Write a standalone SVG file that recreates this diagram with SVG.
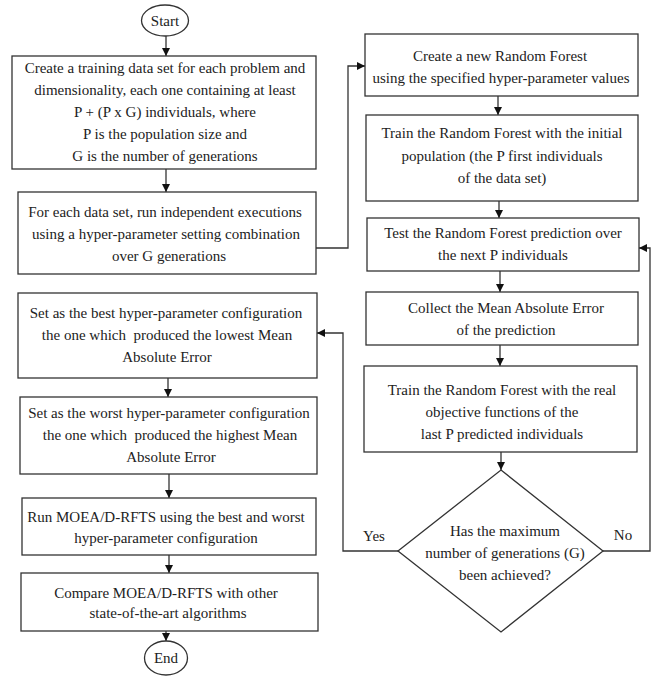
<svg xmlns="http://www.w3.org/2000/svg" width="652" height="677" viewBox="0 0 652 677">
<style>
.n{fill:#fff;stroke:#333;stroke-width:1.3}
.t{font-family:"Liberation Serif","Times New Roman",serif;font-size:15px;fill:#222;text-anchor:middle;white-space:pre}
.c{fill:none;stroke:#333;stroke-width:1.3}
</style>
<defs>
<marker id="ah" viewBox="0 0 10 10" refX="10" refY="5" markerWidth="8" markerHeight="8" markerUnits="userSpaceOnUse" orient="auto">
<path d="M0,0 L10,5 L0,10 z" fill="#111"/>
</marker>
</defs>
<rect width="652" height="677" fill="#fff"/>
<g id="connectors">
<path class="c" d="M166,36 V56" marker-end="url(#ah)"/>
<path class="c" d="M166,169 V192" marker-end="url(#ah)"/>
<path class="c" d="M316,248 H348 V66 H365" marker-end="url(#ah)"/>
<path class="c" d="M498,96 V115" marker-end="url(#ah)"/>
<path class="c" d="M499,201 V218" marker-end="url(#ah)"/>
<path class="c" d="M500,271 V292" marker-end="url(#ah)"/>
<path class="c" d="M500,345 V366" marker-end="url(#ah)"/>
<path class="c" d="M501,452 V470" marker-end="url(#ah)"/>
<path class="c" d="M603,551 H650 V248 H639" marker-end="url(#ah)"/>
<path class="c" d="M398,551 H343 V333 H317" marker-end="url(#ah)"/>
<path class="c" d="M168,378 V397" marker-end="url(#ah)"/>
<path class="c" d="M169,474 V498" marker-end="url(#ah)"/>
<path class="c" d="M169,555 V573" marker-end="url(#ah)"/>
<path class="c" d="M166,631 V641" marker-end="url(#ah)"/>
<text class="t" x="374" y="541">Yes</text>
<text class="t" x="623" y="540">No</text>
</g>
<g id="start">
<ellipse class="n" cx="165" cy="20.5" rx="23.5" ry="15.5"/>
<text class="t" x="165" y="26">Start</text>
</g>
<g id="create-dataset">
<rect class="n" x="12" y="56" width="304" height="113"/>
<text class="t" x="165" y="73">Create a training data set for each problem and</text>
<text class="t" x="165" y="95">dimensionality, each one containing at least</text>
<text class="t" x="165" y="117">P + (P x G) individuals, where</text>
<text class="t" x="165" y="139">P is the population size and</text>
<text class="t" x="165" y="161">G is the number of generations</text>
</g>
<g id="run-executions">
<rect class="n" x="18" y="192" width="298" height="82"/>
<text class="t" x="165" y="217">For each data set, run independent executions</text>
<text class="t" x="166" y="239">using a hyper-parameter setting combination</text>
<text class="t" x="169" y="261">over G generations</text>
</g>
<g id="create-rf">
<rect class="n" x="365" y="34" width="273" height="62"/>
<text class="t" x="500" y="61">Create a new Random Forest</text>
<text class="t" x="501" y="83">using the specified hyper-parameter values</text>
</g>
<g id="train-initial">
<rect class="n" x="366" y="115" width="272" height="86"/>
<text class="t" x="502" y="138">Train the Random Forest with the initial</text>
<text class="t" x="502" y="161">population (the P first individuals</text>
<text class="t" x="502" y="183">of the data set)</text>
</g>
<g id="test-rf">
<rect class="n" x="367" y="218" width="272" height="53"/>
<text class="t" x="503" y="238">Test the Random Forest prediction over</text>
<text class="t" x="503" y="260">the next P individuals</text>
</g>
<g id="collect-mae">
<rect class="n" x="366" y="292" width="272" height="53"/>
<text class="t" x="506" y="313">Collect the Mean Absolute Error</text>
<text class="t" x="506" y="335">of the prediction</text>
</g>
<g id="train-real">
<rect class="n" x="364" y="366" width="273" height="86"/>
<text class="t" x="502" y="395">Train the Random Forest with the real</text>
<text class="t" x="502" y="417">objective functions of the</text>
<text class="t" x="502" y="439">last P predicted individuals</text>
</g>
<g id="decision">
<polygon class="n" points="501,470 603,551 501,632 398,551"/>
<text class="t" x="505" y="536">Has the maximum</text>
<text class="t" x="505" y="558">number of generations (G)</text>
<text class="t" x="505" y="580">been achieved?</text>
</g>
<g id="best-config">
<rect class="n" x="18" y="293" width="299" height="85"/>
<text class="t" x="166" y="318">Set as the best hyper-parameter configuration</text>
<text class="t" x="167" y="340">the one which  produced the lowest Mean</text>
<text class="t" x="167" y="362">Absolute Error</text>
</g>
<g id="worst-config">
<rect class="n" x="20" y="397" width="297" height="77"/>
<text class="t" x="169" y="418">Set as the worst hyper-parameter configuration</text>
<text class="t" x="170" y="440">the one which  produced the highest Mean</text>
<text class="t" x="171" y="462">Absolute Error</text>
</g>
<g id="run-moead">
<rect class="n" x="22" y="498" width="294" height="57"/>
<text class="t" x="166" y="522">Run MOEA/D-RFTS using the best and worst</text>
<text class="t" x="166" y="543">hyper-parameter configuration</text>
</g>
<g id="compare">
<rect class="n" x="21" y="573" width="297" height="58"/>
<text class="t" x="166" y="598">Compare MOEA/D-RFTS with other</text>
<text class="t" x="168" y="618">state-of-the-art algorithms</text>
</g>
<g id="end">
<ellipse class="n" cx="166" cy="658" rx="21.5" ry="17"/>
<text class="t" x="166" y="663">End</text>
</g>
</svg>
